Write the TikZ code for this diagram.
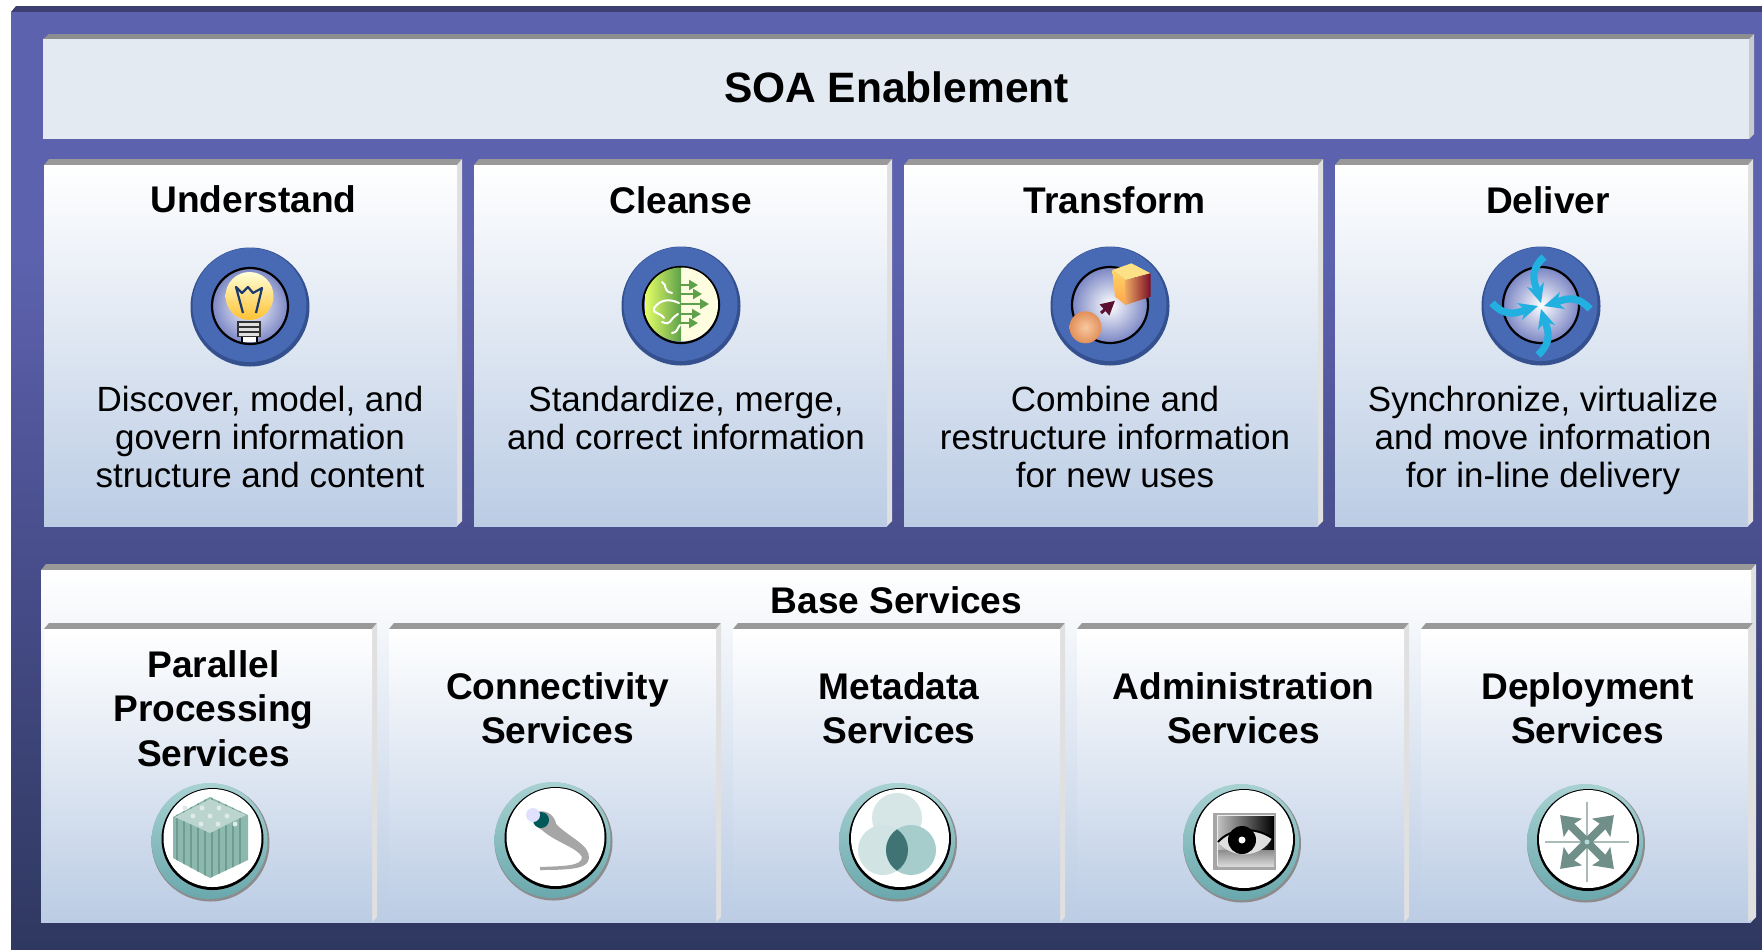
\documentclass[tikz,border=0pt]{standalone}
\usepackage{fontspec}
\setmainfont{Liberation Sans}
\usetikzlibrary{arrows.meta}
\definecolor{bgtop}{HTML}{5D62AE}
\definecolor{bgmid}{HTML}{4C5192}
\definecolor{bgbot}{HTML}{2F3860}
\definecolor{strip}{HTML}{3C3F70}
\definecolor{bartop}{HTML}{8C8E90}
\definecolor{barfill}{HTML}{E3EAF2}
\definecolor{barside}{HTML}{C6CBD0}
\definecolor{edgetop}{HTML}{999999}
\definecolor{edgeside}{HTML}{E0E0E0}
\definecolor{cardbot}{HTML}{BBCCE4}
\definecolor{discdark}{HTML}{34508F}
\definecolor{discblue}{HTML}{4869B3}
\definecolor{innerblue}{HTML}{7A86C4}
\definecolor{tealA}{HTML}{A9D2D2}
\definecolor{tealB}{HTML}{6AA8AD}
\definecolor{bundle}{HTML}{8DB8AE}
\definecolor{bundled}{HTML}{6E9C91}
\definecolor{navy}{HTML}{1C3A6E}
\definecolor{arrowgreen}{HTML}{5FA04A}
\definecolor{maroon}{HTML}{5C1030}
\definecolor{cyanarrow}{HTML}{22B0E0}
\definecolor{arrowteal}{HTML}{6F8F88}
\definecolor{sphA}{HTML}{F8C8A0}
\definecolor{sphB}{HTML}{E2905A}
\tikzset{
  titletext/.style={inner sep=0pt,anchor=north,align=center,font=\fontsize{18.55}{22.2}\selectfont\bfseries},
  bodytext/.style={inner sep=0pt,anchor=north,align=center,font=\fontsize{17.5}{18.85}\selectfont},
  ring/.style={draw=black,line width=1.1pt},
}
\newcommand{\cardbox}[5]{% x0 y0 x1 y1 sidecolor
  \fill[edgetop] (#1,#2+6) -- (#1+5,#2) -- (#3+5,#2) -- (#3,#2+6) -- cycle;
  \fill[#5] (#3,#2+6) -- (#3+5,#2) -- (#3+5,#4-5) -- (#3,#4) -- cycle;
  \shade[top color=white,bottom color=cardbot] (#1,#2+6) rectangle (#3,#4);
}
\newcommand{\bluedisc}[2]{% cx cy
  \fill[discdark] (#1,#2) circle [radius=59.5];
  \fill[discblue] (#1-0.5,#2-2) circle [radius=57];
  \shade[inner color=white,outer color=innerblue] (#1,#2-1) circle [radius=38];
  \draw[ring] (#1,#2-1) circle [radius=38];
}
\newcommand{\tealdisc}[2]{% cx cy
  \fill[black!45] (#1+1,#2+1.5) circle [radius=59];
  \shade[top color=tealA,bottom color=tealB] (#1,#2) circle [radius=58];
  \fill[black] (#1+3,#2-2) circle [radius=51];
  \fill[white] (#1+3,#2-3) circle [radius=49];
}
\begin{document}
\begin{tikzpicture}[x=0.5pt,y=-0.5pt]
\useasboundingbox (0,0) rectangle (1762,949);
% frame
\fill[strip] (11,12) -- (16,6) -- (1762,6) -- (1762,12) -- cycle;
\shade[top color=bgtop,bottom color=bgmid,middle color=bgtop] (11,12) rectangle (1762,500);
\shade[top color=bgmid,bottom color=bgbot] (11,499.5) rectangle (1762,949);
% SOA bar
\fill[bartop] (43,39) -- (49,34) -- (1754,34) -- (1749,39) -- cycle;
\fill[barside] (1749,39) -- (1754,34) -- (1754,134) -- (1749,139) -- cycle;
\fill[barfill] (43,39) rectangle (1749,139);
\node[inner sep=0pt,font=\fontsize{21.25}{25}\selectfont\bfseries] (soa) at (896.5,87) {SOA Enablement};
% upper cards
\cardbox{44}{159}{457}{526}{edgeside}
\cardbox{474}{159}{887}{526}{edgeside}
\cardbox{904}{159}{1318}{526}{edgeside}
\cardbox{1335}{159}{1748}{526}{edgeside}
\node[titletext] (understand) at (253.5,185) {Understand};
\node[titletext] (cleanse) at (680.5,186) {Cleanse};
\node[titletext] (transform) at (1114.5,186) {Transform};
\node[titletext] (deliver) at (1548,186) {Deliver};
\node[bodytext] (understandtext) at (260,386) {Discover, model, and\\govern information\\structure and content};
\node[bodytext] (cleansetext) at (686,386) {Standardize, merge,\\and correct information};
\node[bodytext] (transformtext) at (1115,386) {Combine and\\restructure information\\for new uses};
\node[bodytext] (delivertext) at (1543,386) {Synchronize, virtualize\\and move information\\for in-line delivery};
% base panel
\cardbox{41}{564}{1751}{922}{edgeside}
\cardbox{44}{623}{372}{922}{edgeside}
\cardbox{389}{623}{716}{922}{edgeside}
\cardbox{733}{623}{1060}{922}{edgeside}
\cardbox{1077}{623}{1404}{922}{edgeside}
\cardbox{1421}{623}{1748}{922}{edgeside}
\node[titletext] (base) at (896.5,586) {Base Services};
\node[titletext] (parallel) at (213.5,650) {Parallel\\Processing\\Services};
\node[titletext] (connect) at (557.5,672) {Connectivity\\Services};
\node[titletext] (meta) at (899,672) {Metadata\\Services};
\node[titletext] (admin) at (1243.5,672) {Administration\\Services};
\node[titletext] (deploy) at (1587.5,672) {Deployment\\Services};
% --- Understand icon
\bluedisc{250}{307}
\shade[top color=white!60!yellow!40,bottom color=orange!60!yellow!80] (249.5,296) circle [radius=24];
\draw[navy,line width=1.1pt,line join=round] (243,313) -- (236,287) -- (242,293) -- (248,287) -- (253,293) -- (262,288) -- (256,313);
\fill[black!80] (237,321) rectangle (261,337);
\foreach \yy in {323,328,333}{\fill[black!12] (239,\yy) rectangle (259,\yy+3);}
\fill[white] (242,337) rectangle (257,342);
\draw[black,line width=0.8pt] (242,337) -- (242,342) (257,337) -- (257,342);
% --- Cleanse icon
\bluedisc{681}{306}
\begin{scope}
  \clip (681,304.5) circle [radius=37];
  \fill[yellow!12!white] (681,260) rectangle (725,350);
  \shade[left color=yellow!55!white!90!green,right color=arrowgreen] (645,260) rectangle (681,350);
\end{scope}
\draw[white,line width=1pt,line cap=round] (662,282) .. controls (668,285) and (662,291) .. (672,293)
  (679,303) .. controls (668,298) and (660,300) .. (654,308) .. controls (652,314) and (660,312) .. (664,318)
  (678,314) .. controls (668,320) and (672,326) .. (662,322)
  (680,325) .. controls (676,330) and (678,332) .. (672,333);
\foreach \yy/\tip in {285/698,294/702,304/709,314/701,323/698}{
  \draw[arrowgreen,line width=1.1pt,-{Triangle[length=4.5pt,width=5pt]}] (681,\yy) -- (\tip,\yy);
}
% --- Transform icon
\bluedisc{1110}{306}
\shade[inner color=sphA,outer color=sphB] (1085.5,327.3) circle [radius=16];
\fill[yellow!55!orange!45!white] (1112.3,270) -- (1131.4,263.3) -- (1150.5,273.3) -- (1125.7,280) -- cycle;
\shade[top color=yellow!45!orange!60!white,bottom color=orange!70!white] (1112.3,270) -- (1125.7,280) -- (1125.7,305) -- (1115,296.7) -- cycle;
\shade[left color=orange!55!brown!70!white,right color=maroon!80!red] (1125.7,280) -- (1150.5,273.3) -- (1150.5,296.7) -- (1125.7,305) -- cycle;
\draw[maroon,line width=1.5pt,-{Triangle[length=7pt,width=7pt]}] (1101,313) -- (1115,300.7);
% --- Deliver icon
\bluedisc{1541}{306}
\begin{scope}[shift={(1541,306)}]
\foreach \aa in {0,90,180,270}{
  \begin{scope}[rotate=\aa]
    \draw[cyanarrow,line width=3.6pt] (3,-49) .. controls (-9,-38) and (-9,-28) .. (-4,-16);
    \fill[cyanarrow] (-14,-19) -- (-4,-16) -- (3,-24) -- (0,-3) -- cycle;
  \end{scope}
}
\end{scope}
% --- Parallel icon
\tealdisc{209.5}{841}
\begin{scope}
  \clip (173,817) -- (210,797) -- (248,815) -- (248,860) -- (210,878) -- (173,858) -- cycle;
  \fill[bundle] (170,790) rectangle (250,880);
  \foreach \xx in {176,183,190,197,204,211,218,225,232,239}{\fill[bundled] (\xx,790) rectangle (\xx+2,880);}
\end{scope}
\fill[bundle!60!white] (175,817) -- (210,799) -- (246,815) -- (210,833) -- cycle;
\foreach \xx/\yy in {193/0,210/0,227/0}{\foreach \dd in {-8,0,8}{\fill[white!70!bundle] (\xx+\dd,816+\dd) circle [radius=2.5];}}
% --- Connectivity icon
\tealdisc{552.5}{840}
\fill[black!35] (536,812) .. controls (550,808) and (556,820) .. (556,824) .. controls (570,838) and (590,845) .. (589,858) .. controls (588,868) and (575,870) .. (540,870) -- (540,867) .. controls (565,866) and (582,866) .. (582,857) .. controls (578,848) and (555,842) .. (542,830) .. controls (535,827) and (532,820) .. (536,812) -- cycle;
\fill[teal!70!black] (541,820) circle [radius=8];
\fill[blue!12!white] (533,815) circle [radius=7];
% --- Metadata icon
\tealdisc{897}{841}
\fill[black!22!teal!16!white] (897,818) circle [radius=25];
\fill[black!22!teal!18!white] (883,850) circle [radius=25];
\fill[black!15!teal!35!white] (911,850) circle [radius=25];
\begin{scope}
  \clip (883,850) circle [radius=25];
  \fill[teal!55!black!75!white] (911,850) circle [radius=25];
\end{scope}
% --- Administration icon
\tealdisc{1241}{842}
\fill[black!35] (1213,813) rectangle (1276,870);
\fill[black!8] (1217,815) rectangle (1274,866);
\shade[left color=black!25,right color=black] (1218,816) rectangle (1274,850);
\shade[top color=black!45,bottom color=black!15] (1218,850) rectangle (1274,866);
\fill[black!12] (1218,842) .. controls (1230,828) and (1255,826) .. (1272,838) .. controls (1262,858) and (1232,860) .. (1218,842) -- cycle;
\fill[black] (1242,840) circle [radius=14];
\fill[white] (1242,840) circle [radius=3.5];
\draw[black,line width=1pt] (1218,842) .. controls (1230,828) and (1255,826) .. (1272,838);
% --- Deployment icon
\tealdisc{1585}{842}
\begin{scope}[shift={(1587,842)}]
  \draw[arrowteal!60!white,line width=0.7pt] (-42,0) -- (42,0) (0,-40) -- (0,40);
  \foreach \aa in {45,135,225,315}{
    \begin{scope}[rotate=\aa]
      \fill[arrowteal] (0,-4) -- (22,-4) -- (20,-13) -- (38,0) -- (20,13) -- (22,4) -- (0,4) -- cycle;
    \end{scope}
  }
  \fill[white!70!teal] (0,0) circle [radius=2.5];
\end{scope}
\end{tikzpicture}
\end{document}
